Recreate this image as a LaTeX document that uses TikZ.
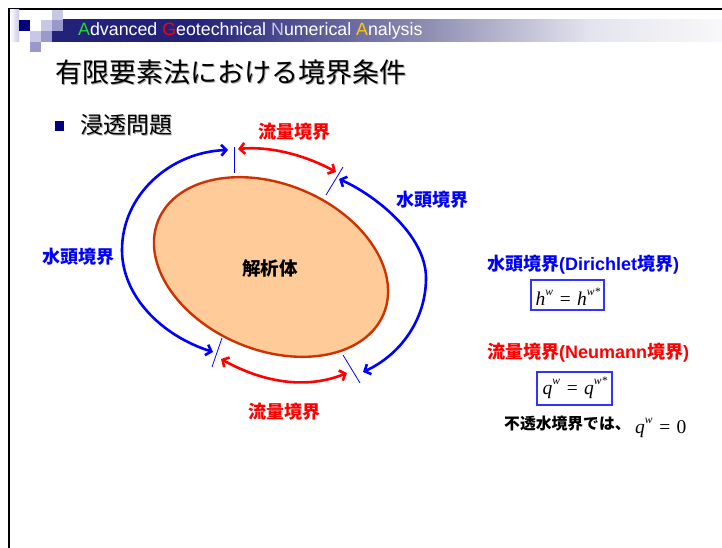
\documentclass[tikz,border=0pt]{standalone}
\usepackage{fontspec}
\setmainfont{Liberation Sans}
\newfontfamily\jp{Noto Sans CJK JP}
\newfontfamily\tms{Liberation Serif}
\usetikzlibrary{arrows.meta,shapes.geometric}
\definecolor{navy}{HTML}{000080}
\definecolor{lavl}{HTML}{C8C8E6}
\definecolor{lavm}{HTML}{9999CC}
\definecolor{band}{HTML}{22227A}
\definecolor{bandm}{HTML}{8A8AB0}
\definecolor{bandl}{HTML}{E4E4EE}
\definecolor{bande}{HTML}{F8F8FA}
\definecolor{peach}{HTML}{FFCC99}
\definecolor{rust}{HTML}{CC3300}
\definecolor{bblue}{HTML}{0000FF}
\definecolor{rred}{HTML}{FF0000}
\definecolor{boxblue}{HTML}{3333FF}
\definecolor{agreen}{HTML}{22DD22}
\definecolor{ayellow}{HTML}{FFCC00}
\definecolor{alav}{HTML}{C8C8DC}
\pgfdeclarehorizontalshading{bandshade}{100bp}{color(0bp)=(band); color(25bp)=(band); color(35bp)=(band); color(52bp)=(bandm); color(65bp)=(bandl); color(75bp)=(bande); color(100bp)=(bande)}
\newcommand{\sqexp}[1]{\raisebox{0.5em}{\fontsize{11.5}{11.5}\selectfont\itshape #1}}
\tikzset{
  arc/.style={line width=2.6pt,{Straight Barb[length=5pt,width=11pt]}-{Straight Barb[length=5pt,width=11pt]}},
  bluearc/.style={arc,draw=bblue},
  redarc/.style={arc,draw=rred},
  tick/.style={draw=bblue,line width=0.8pt},
  lbl/.style={font=\jp\bfseries\fontsize{18}{18}\selectfont,inner sep=0pt},
  eqbox/.style={draw=boxblue,line width=1.2pt,inner sep=0pt},
  eqtext/.style={font=\tms\fontsize{19.5}{19.5}\selectfont,inner sep=0pt},
}
\begin{document}
\begin{tikzpicture}[x=1pt,y=-1pt]
\useasboundingbox (0,0) rectangle (722,548);
\fill[white] (0,0) rectangle (722,548);
% frame
\draw[line width=2pt,black] (8,9.5) -- (722,9.5);
\draw[line width=2pt,black] (9,9) -- (9,548);
% logo
\shade[left color=white,right color=lavl] (10,10) rectangle (19,42);
\shade[shading=bandshade] (63,20) rectangle (722,42);
\fill[navy] (18.5,20) rectangle (30,31);
\fill[lavl] (41,20) rectangle (52,31);
\fill[lavm] (52,20) rectangle (63,31);
\fill[lavl] (52,10) rectangle (63,20);
\fill[lavl] (30,31) rectangle (41,42);
\fill[lavm] (41,31) rectangle (52,42);
\fill[band] (52,31) rectangle (63,42);
\fill[lavm] (30,42) rectangle (41,52);
\node[anchor=west,inner sep=0pt,text=white,font=\fontsize{17.8}{17.8}\selectfont] (banner) at (78,31)
  {\textcolor{agreen}{A}dvanced \textcolor{rred}{G}eotechnical \textcolor{alav}{N}umerical \textcolor{ayellow}{A}nalysis};
% title
\node[anchor=west,inner sep=0pt,text=black!35,font=\jp\fontsize{27}{27}\selectfont] (titleshadow) at (56.5,73.5) {有限要素法における境界条件};
\node[anchor=west,inner sep=0pt,font=\jp\fontsize{27}{27}\selectfont] (title) at (55,72) {有限要素法における境界条件};
% bullet
\fill[navy] (55,121) rectangle (64,131);
\node[anchor=west,inner sep=0pt,text=black!35,font=\jp\fontsize{23}{23}\selectfont] (subshadow) at (81.2,126.2) {浸透問題};
\node[anchor=west,inner sep=0pt,font=\jp\fontsize{23}{23}\selectfont] (sub) at (80,125) {浸透問題};
% body
\node[draw=rust,fill=peach,line width=2.4pt,ellipse,minimum width=244pt,minimum height=166pt,rotate=-22.6,inner sep=0pt] (body) at (271,267) {};
\node[font=\jp\bfseries\fontsize{18.5}{18.5}\selectfont,inner sep=0pt] (bodylbl) at (270,268) {解析体};
% ticks
\coordinate (t1a) at (234,147); \coordinate (t1b) at (234,173);
\coordinate (t2a) at (343,167); \coordinate (t2b) at (326,195);
\coordinate (t3a) at (222,338); \coordinate (t3b) at (212,367);
\coordinate (t4a) at (343,355); \coordinate (t4b) at (360,383);
\draw[tick] (t1a) -- (t1b);
\draw[tick] (t2a) -- (t2b);
\draw[tick] (t3a) -- (t3b);
\draw[tick] (t4a) -- (t4b);
% arcs
\coordinate (bl0) at (213,352); \coordinate (bl1) at (122,250); \coordinate (bl2) at (228,150);
\draw[bluearc] (bl0) .. controls (160,335) and (122,295) .. (bl1) .. controls (122,195) and (170,152) .. (bl2);
\coordinate (rt0) at (238,149); \coordinate (rt1) at (336,172);
\draw[redarc] (rt0) .. controls (270,146) and (305,155) .. (rt1);
\coordinate (br0) at (339,179); \coordinate (br1) at (426,278); \coordinate (br2) at (363,372);
\draw[bluearc] (br0) .. controls (375,195) and (426,235) .. (br1) .. controls (426,320) and (400,355) .. (br2);
\coordinate (rb0) at (221,359); \coordinate (rb1) at (347,373);
\draw[redarc] (rb0) .. controls (255,378) and (300,392) .. (rb1);
% labels
\node[lbl,text=rred] (l1) at (294,132) {流量境界};
\node[lbl,text=bblue] (l2) at (432,200) {水頭境界};
\node[lbl,text=bblue] (l3) at (78,257) {水頭境界};
\node[lbl,text=rred] (l4) at (284,412) {流量境界};
% right side
\node[anchor=west,inner sep=0pt,text=bblue,font=\bfseries\fontsize{18}{18}\selectfont] (dir) at (487,265) {{\jp 水頭境界}(Dirichlet{\jp 境界})};
\node[eqbox,minimum width=73pt,minimum height=30pt] (eq1) at (567.5,295) {};
\node[eqtext] (eq1t) at (568,297) {\itshape h\sqexp{w}\;=\;h\sqexp{w*}};
\node[anchor=west,inner sep=0pt,text=rred,font=\bfseries\fontsize{18}{18}\selectfont] (neu) at (487,353) {{\jp 流量境界}(Neumann{\jp 境界})};
\node[eqbox,minimum width=75pt,minimum height=33pt] (eq2) at (574.5,388.5) {};
\node[eqtext] (eq2t) at (575,388) {\itshape q\sqexp{w}\;=\;q\sqexp{w*}};
\node[anchor=west,inner sep=0pt,font=\jp\bfseries\fontsize{15.8}{15.8}\selectfont] (imp) at (504,424) {不透水境界では、};
\node[anchor=west,eqtext] (imq) at (635,428) {\itshape q\sqexp{w}\;=\;\upshape 0};
\end{tikzpicture}
\end{document}
